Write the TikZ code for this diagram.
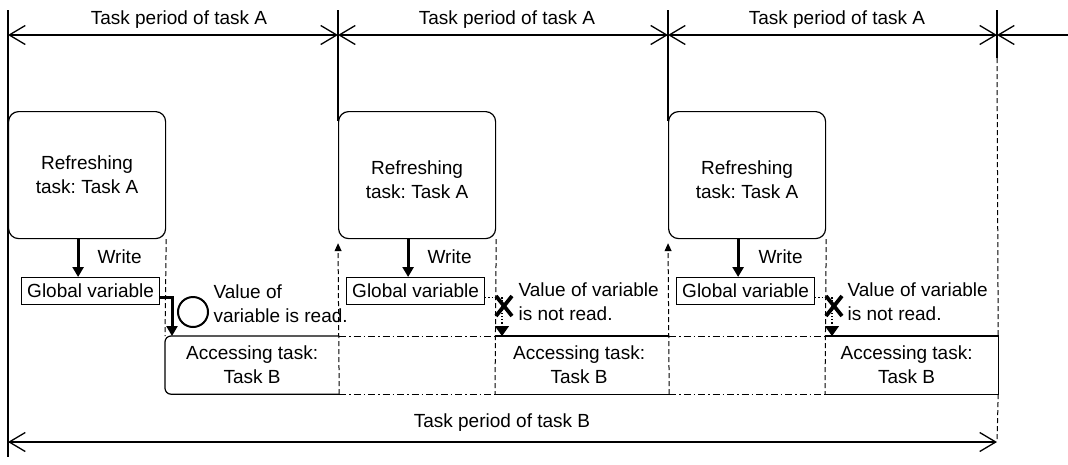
\documentclass[tikz,border=0pt]{standalone}
\usepackage{fontspec}
\setmainfont{Liberation Sans}
\usetikzlibrary{arrows.meta}
\frenchspacing
\begin{document}
\begin{tikzpicture}[x=1pt,y=-1pt,line width=1.2pt,
  txt/.style={font=\fontsize{19}{24}\selectfont, inner sep=0pt, align=center},
  refbox/.style={draw, rounded corners=10pt, minimum width=157pt, minimum height=127pt, anchor=north west, inner sep=0pt},
  gvbox/.style={draw, minimum width=138pt, minimum height=27pt, anchor=north west, inner sep=0pt, font=\fontsize{19}{24}\selectfont},
  accbox/.style={minimum width=#1, minimum height=57pt, anchor=north west, inner sep=0pt},
  dimline/.style={line width=1.3pt, {Straight Barb[length=16pt,width=19pt]}-{Straight Barb[length=16pt,width=19pt]}},
  wr/.style={line width=3pt, -{Triangle[length=10pt,width=11pt]}},
  dsh/.style={dash pattern=on 5pt off 3pt, line width=1pt},
  dshup/.style={dsh, -{Triangle[length=8pt,width=7pt]}, shorten >=4pt},
  dashdot/.style={dash pattern=on 7pt off 3pt on 1.5pt off 3pt, line width=1pt},
  dottedarrow/.style={line width=1.2pt, dash pattern=on 1.2pt off 2pt, -{Triangle[length=10pt,width=14pt]}},
  xm/.style={line width=3.8pt},
]
\useasboundingbox (0,0) rectangle (1068,464);

% top period arrows
\coordinate (t0) at (8,35);
\coordinate (t1) at (338,35);
\coordinate (t2) at (668,35);
\coordinate (t3) at (997,35);
\coordinate (t4) at (1068,35);
\draw[dimline] (t0) -- (t1);
\draw[dimline] (t1) -- (t2);
\draw[dimline] (t2) -- (t3);
\draw[line width=1.3pt, -{Straight Barb[length=16pt,width=19pt]}] (t4) -- (t3);
\node[txt] (lA1) at (179,19.5) {Task period of task A};
\node[txt] (lA2) at (507,19.5) {Task period of task A};
\node[txt] (lA3) at (837,19.5) {Task period of task A};

% refreshing boxes
\node[refbox] (ra1) at (8,111) {};
\node[txt] (ra1t) at (ra1.center) {Refreshing\\task: Task A};
\node[refbox] (ra2) at (338,111) {};
\node[txt] (ra2t) at ([yshift=-5pt]ra2.center) {Refreshing\\task: Task A};
\node[refbox] (ra3) at (668,111) {};
\node[txt] (ra3t) at ([yshift=-5pt]ra3.center) {Refreshing\\task: Task A};

% solid verticals
\coordinate (v0) at (8,10);
\coordinate (v0b) at (8,457);
\coordinate (v1) at (338,10);
\coordinate (v2) at (668,10);
\coordinate (v3) at (997,10);
\coordinate (v3b) at (997,58);
\draw (v0) -- (v0b);
\draw (v1) -- ([yshift=-10pt]ra2.north west);
\draw (v2) -- ([yshift=-10pt]ra3.north west);
\draw (v3) -- (v3b);

% global variable boxes
\node[gvbox] (gv1) at (21,277) {Global variable};
\node[gvbox] (gv2) at (346,277) {Global variable};
\node[gvbox] (gv3) at (676,277) {Global variable};

% write arrows
\coordinate (w1) at ([xshift=-9pt]ra1.south);
\coordinate (w2) at ([xshift=-9pt]ra2.south);
\coordinate (w3) at ([xshift=-9pt]ra3.south);
\draw[wr] (w1) -- (w1 |- gv1.north);
\draw[wr] (w2) -- (w2 |- gv2.north);
\draw[wr] (w3) -- (w3 |- gv3.north);
\node[txt, anchor=west] (wl1) at (97,257) {Write};
\node[txt, anchor=west] (wl2) at (427,257) {Write};
\node[txt, anchor=west] (wl3) at (758,257) {Write};

% accessing boxes
\node[accbox=173pt] (ab1) at (165,336) {};
\node[accbox=173pt] (ab2) at (495,336) {};
\node[accbox=172pt] (ab3) at (825,336) {};
\draw[rounded corners=6pt] (ab1.north east) -- (ab1.north west) -- (ab1.south west) -- (ab1.south east);
\draw (ab2.north west) -- (ab2.north east);
\draw (ab2.south west) -- (ab2.south east);
\draw (ab3.north west) -- (ab3.north east) -- (ab3.south east) -- (ab3.south west);
\draw[dashdot] (ab1.north east) -- (ab2.north west);
\draw[dashdot] (ab1.south east) -- (ab2.south west);
\draw[dashdot] (ab2.north east) -- (ab3.north west);
\draw[dashdot] (ab2.south east) -- (ab3.south west);
\node[txt] (ab1t) at (ab1.center) {Accessing task:\\Task B};
\node[txt] (ab2t) at ([xshift=-3pt]ab2.center) {Accessing task:\\Task B};
\node[txt] (ab3t) at ([xshift=-5pt]ab3.center) {Accessing task:\\Task B};

% dashed verticals
\draw[dsh] (ra1.south east) -- (ab1.north west);
\draw[dshup] (ab1.south east) -- (ra2.south west);
\draw[dsh] (ra2.south east) -- (ab2.south west);
\draw[dshup] (ab2.south east) -- (ra3.south west);
\draw[dsh] (ra3.south east) -- (ab3.south west);
\coordinate (b0) at (8,442);
\coordinate (b1) at (997,442);
\draw[dsh] (v3b) -- (ab3.north east);
\draw[dsh] (ab3.south east) -- (b1);

% read path
\draw[wr] ([yshift=-6.5pt]gv1.east) -| ([xshift=7pt]ab1.north west);
\node[circle, draw, line width=2pt, minimum size=30pt, inner sep=0pt] (ok) at (193,312) {};
\node[txt, align=left, anchor=west] (vr1) at (213,304) {Value of\\variable is read.};

% not-read paths
\draw[dottedarrow] ([yshift=-6.5pt]gv2.east) -| ([xshift=7pt]ab2.north west);
\draw[dottedarrow] ([yshift=-6.5pt]gv3.east) -| ([xshift=7pt]ab3.north west);
\coordinate (x2) at (504,306);
\coordinate (x3) at (834,306);
\draw[xm] ([shift={(-8,-10)}]x2) -- ([shift={(8,10)}]x2);
\draw[xm] ([shift={(8,-10)}]x2) -- ([shift={(-8,10)}]x2);
\draw[xm] ([shift={(-8,-10)}]x3) -- ([shift={(8,10)}]x3);
\draw[xm] ([shift={(8,-10)}]x3) -- ([shift={(-8,10)}]x3);
\node[txt, align=left, anchor=west] (vn2) at (518,302) {Value of variable\\is not read.};
\node[txt, align=left, anchor=west] (vn3) at (847,302) {Value of variable\\is not read.};

% bottom period arrow
\draw[dimline] (b0) -- (b1);
\node[txt] (lB) at (502,423) {Task period of task B};
\end{tikzpicture}
\end{document}
